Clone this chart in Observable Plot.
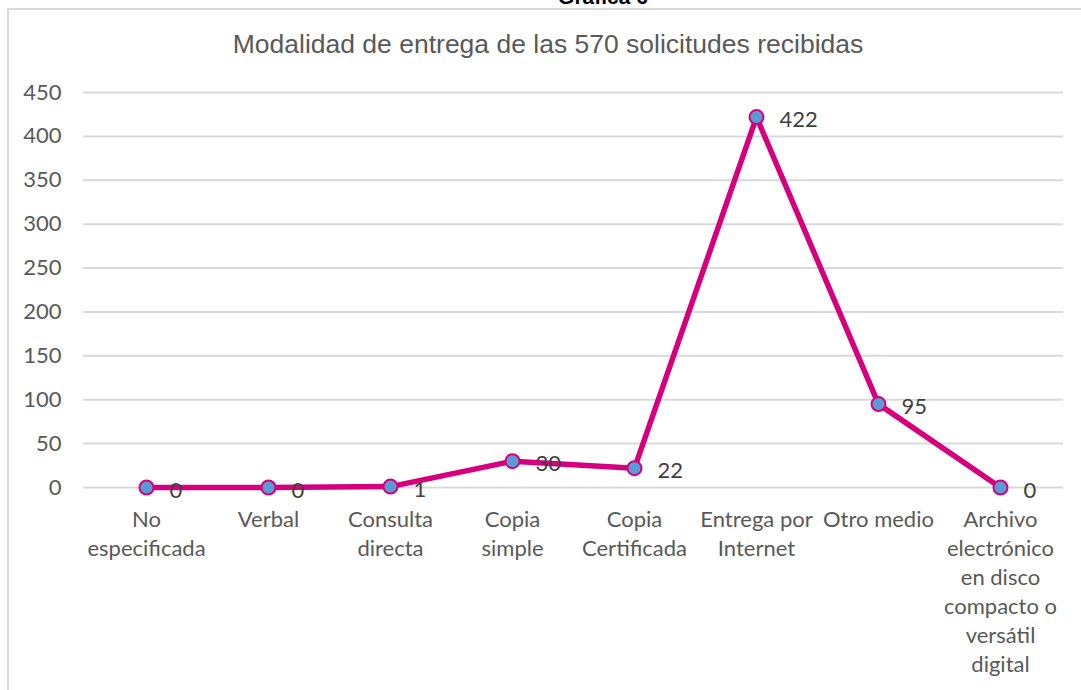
<!DOCTYPE html>
<html>
<head>
<meta charset="utf-8">
<script src="https://cdn.jsdelivr.net/npm/d3@7"></script>
<script src="https://cdn.jsdelivr.net/npm/@observablehq/plot@0.6"></script>
<style>
  html, body { margin: 0; padding: 0; background: #fff; }
  #wrap { position: relative; width: 1081px; height: 690px; overflow: hidden; }
  #box { position: absolute; left: 7px; top: 8px; width: 1100px; height: 700px;
         border-left: 2px solid #d9d9d9; border-top: 2px solid #d9d9d9; box-sizing: border-box; }
  #sup { position: absolute; left: 0; width: 1206px; top: -15px; text-align: center;
         font: bold 21px "Liberation Sans", Arial, sans-serif; color: #000; }
  #title { position: absolute; left: 0; width: 1096px; top: 29px; text-align: center;
           font: 26.5px "Liberation Sans", Arial, sans-serif; color: #595959; }
  #chart { position: absolute; left: 0; top: 0; }
</style>
</head>
<body>
<div id="wrap">
  <div id="box"></div>
  <div id="sup">Gráfica 6</div>
  <div id="title">Modalidad de entrega de las 570 solicitudes recibidas</div>
  <div id="chart"></div>
</div>
<script>
const categories = ["No especificada", "Verbal", "Consulta directa", "Copia simple",
  "Copia Certificada", "Entrega por Internet", "Otro medio",
  "Archivo electrónico en disco compacto o versátil digital"];
const tickLabels = ["No\nespecificada", "Verbal", "Consulta\ndirecta", "Copia\nsimple",
  "Copia\nCertificada", "Entrega por\nInternet", "Otro medio",
  "Archivo\nelectrónico\nen disco\ncompacto o\nversátil\ndigital"];
const values = [0, 0, 1, 30, 22, 422, 95, 0];
const yTicks = [0, 50, 100, 150, 200, 250, 300, 350, 400, 450];

const data = categories.map((c, i) => ({cat: c, value: values[i]}));
const labelOf = new Map(categories.map((c, i) => [c, tickLabels[i]]));

const magenta = "#d6007f";
const font = "Lato, 'Open Sans', sans-serif";

const chart = Plot.plot({
  width: 1081,
  height: 690,
  marginTop: 92,
  marginBottom: 203,
  marginLeft: 83,
  marginRight: 18,
  style: {fontFamily: font, fontSize: "22px", color: "#595959", background: "transparent"},
  x: {type: "band", domain: categories, padding: 0, label: null},
  y: {domain: [0, 450], label: null},
  marks: [
    Plot.gridY(yTicks, {stroke: "#d9d9d9", strokeOpacity: 1, strokeWidth: 2}),
    Plot.axisY({ticks: yTicks, tickSize: 0, tickPadding: 22, label: null, fontSize: 22, fill: "#595959"}),
    Plot.axisX({tickSize: 0, tickPadding: 19, label: null, fontSize: 22, fill: "#595959",
      lineHeight: 1.32, textAnchor: "middle", tickFormat: d => labelOf.get(d), lineWidth: 100}),
    Plot.lineY(data, {x: "cat", y: "value", stroke: magenta, strokeWidth: 5.5, curve: "linear"}),
    Plot.dot(data, {x: "cat", y: "value", r: 7, fill: "#5b9bd5", stroke: magenta, strokeWidth: 2}),
    Plot.text(data, {x: "cat", y: "value", text: d => String(d.value), textAnchor: "start",
      dx: 23, dy: 3, fontSize: 22, fill: "#404040"})
  ]
});
document.getElementById("chart").appendChild(chart);
</script>
</body>
</html>
